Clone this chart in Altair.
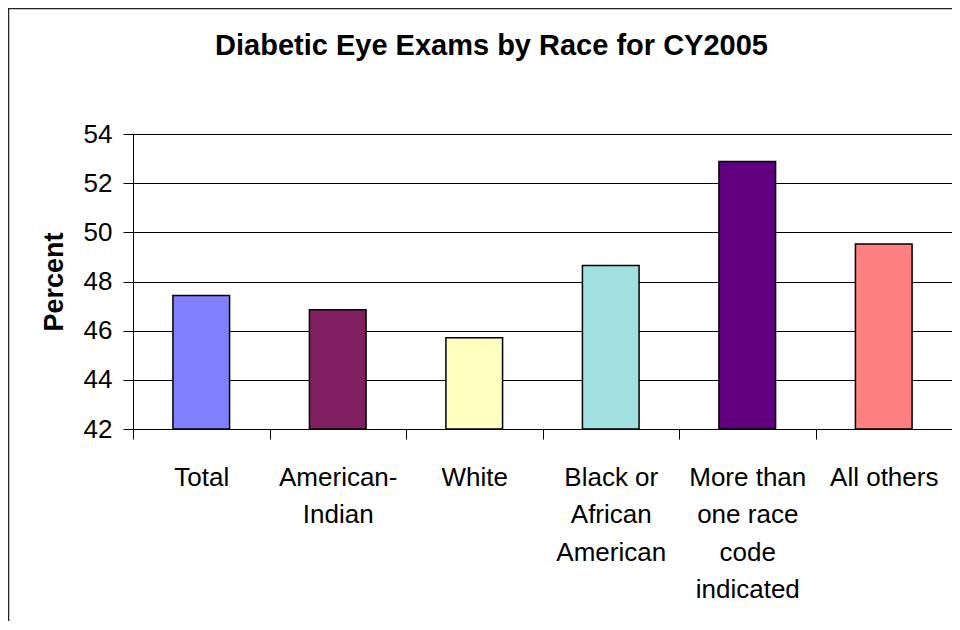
import altair as alt
import pandas as pd

# ---- data ----
categories = ["Total", "American-\nIndian", "White", "Black or\nAfrican\nAmerican",
              "More than\none race\ncode\nindicated", "All others"]
percent = [47.43, 46.85, 45.71, 48.65, 52.88, 49.53]
bar_colors = ["#8080FF", "#802060", "#FFFFC0", "#A0E0E0", "#600080", "#FF8080"]
y_ticks = [42, 44, 46, 48, 50, 52, 54]

df = pd.DataFrame({"cat": categories, "pct": percent})

FONT = "Liberation Sans"
W, H = 819, 295

x_enc = alt.X(
    "cat:N", sort=None, title=None,
    scale=alt.Scale(paddingInner=0, paddingOuter=0),
    axis=alt.Axis(
        labelExpr="split(datum.label, '\\n')",
        labelAngle=0, labelFontSize=26, labelFont=FONT, labelColor="black",
        labelPadding=25, labelLineHeight=37.5, labelBaseline="top",
        tickBand="extent", tickSize=10, tickColor="black", tickWidth=1,
        domainColor="black", domainWidth=1, grid=False,
    ),
)

y_enc = alt.Y(
    "pct:Q",
    title="Percent",
    scale=alt.Scale(domain=[42, 54], zero=False, nice=False),
    axis=alt.Axis(
        values=y_ticks, labelFontSize=26, labelFont=FONT, labelColor="black",
        labelPadding=11, tickSize=10, tickColor="black", tickWidth=1,
        domainColor="black", domainWidth=1,
        grid=True, gridColor="#000000", gridWidth=1, gridOpacity=1,
        titleFont=FONT, titleFontSize=27, titleFontWeight="bold", titleColor="black",
        titlePadding=15,
    ),
)

bars = alt.Chart(df).mark_bar(
    width=alt.RelativeBandSize(0.415), stroke="black", strokeWidth=1.5
).encode(
    x=x_enc,
    y=y_enc,
    y2=alt.datum(42),
    color=alt.Color("cat:N", sort=None, legend=None,
                    scale=alt.Scale(domain=categories, range=bar_colors)),
)

frame = alt.Chart(alt.Data(values=[{"a": 1}])).mark_rect(
    fill=None, stroke="#222222", strokeWidth=1.5, clip=False
).encode(
    x=alt.value(-124.5), x2=alt.value(2000),
    y=alt.value(-125.5), y2=alt.value(2000),
)

chart = alt.layer(bars, frame).properties(
    width=W, height=H,
    title=alt.TitleParams(
        "Diabetic Eye Exams by Race for CY2005",
        font=FONT, fontSize=29, fontWeight="bold", color="black",
        anchor="middle", frame="group", dx=-51, offset=-76, baseline="alphabetic",
    ),
    padding={"left": 125, "top": 126, "right": 0, "bottom": 192},
    autosize=alt.AutoSizeParams(type="none"),
).configure_view(
    fill="#C0C0C0", stroke="#808080", strokeWidth=1.5
).configure(background="white")

chart.save("out.html", embed_options={"renderer": "svg", "actions": False})
